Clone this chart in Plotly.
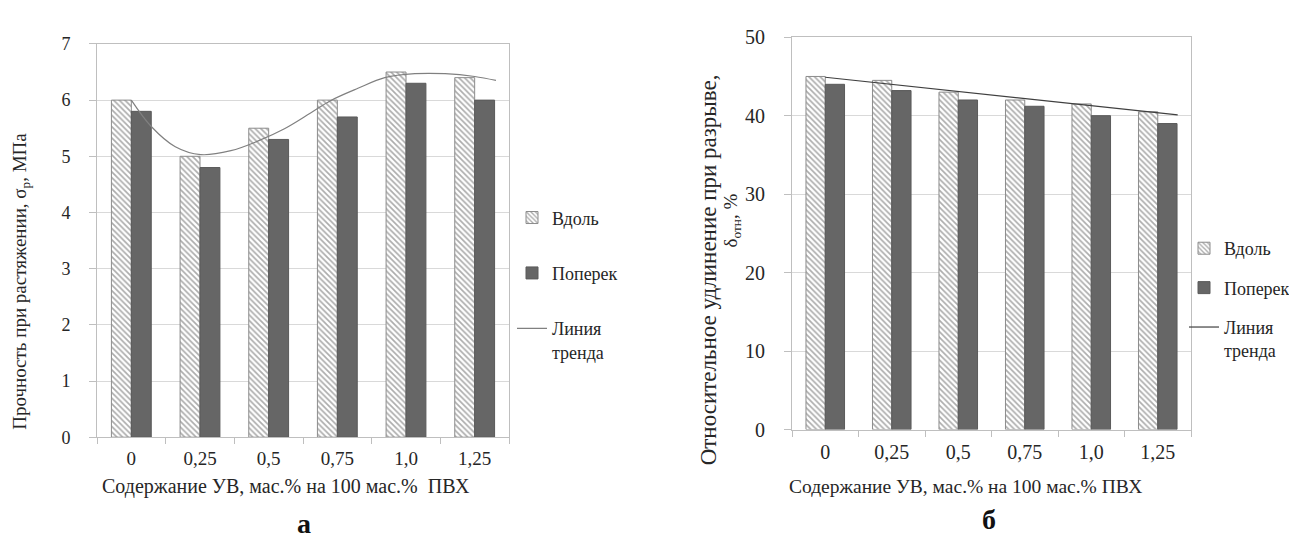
import plotly.graph_objects as go

categories = ["0", "0,25", "0,5", "0,75", "1,0", "1,25"]
cat_pos = [0, 1, 2, 3, 4, 5]

# chart a: tensile strength, MPa
a_along = [6.0, 5.0, 5.5, 6.0, 6.5, 6.4]
a_across = [5.8, 4.8, 5.3, 5.7, 6.3, 6.0]
a_trend_x = [0, 0.29, 0.64, 1.01, 1.45, 1.84, 2.23, 2.61, 2.9, 3.3, 3.69, 4.13, 4.57, 5.0, 5.31]
a_trend_y = [6.0, 5.53, 5.17, 5.03, 5.10, 5.27, 5.49, 5.77, 5.99, 6.21, 6.40, 6.47, 6.47, 6.42, 6.35]

# chart b: relative elongation at break, %
b_along = [45.0, 44.5, 43.0, 42.0, 41.5, 40.5]
b_across = [44.0, 43.2, 42.0, 41.2, 40.0, 39.0]
b_trend_x = [0, 5.3]
b_trend_y = [44.9, 40.1]

W, H = 1297, 539
SERIF = "Liberation Serif"
GRID = "#d9d9d9"
AXC = "#bfbfbf"
DARK = "#666666"
TXT = "#262626"

def px_x(p):
    return p / W

def px_y(p):
    return 1 - p / H

fig = go.Figure()

hatch = dict(shape="\\", fgcolor="#595959", bgcolor="white", size=4, solidity=0.42)

# --- chart a
fig.add_trace(go.Bar(x=cat_pos, y=a_along, name="Вдоль", xaxis="x", yaxis="y",
                     marker=dict(color="white", pattern=hatch, line=dict(color="#8c8c8c", width=1)),
                     legend="legend", legendgroup="a1"))
fig.add_trace(go.Bar(x=cat_pos, y=a_across, name="Поперек", xaxis="x", yaxis="y",
                     marker=dict(color=DARK, line=dict(color="#5a5a5a", width=1)),
                     legend="legend", legendgroup="a2"))
fig.add_trace(go.Scatter(x=a_trend_x, y=a_trend_y, name="Линия<br>тренда", mode="lines",
                         line=dict(color="#808080", width=1.2, shape="spline"),
                         xaxis="x", yaxis="y", legend="legend", legendgroup="a3"))

# --- chart b
fig.add_trace(go.Bar(x=cat_pos, y=b_along, name="Вдоль", xaxis="x2", yaxis="y2",
                     marker=dict(color="white", pattern=hatch, line=dict(color="#8c8c8c", width=1)),
                     legend="legend2", legendgroup="b1"))
fig.add_trace(go.Bar(x=cat_pos, y=b_across, name="Поперек", xaxis="x2", yaxis="y2",
                     marker=dict(color=DARK, line=dict(color="#5a5a5a", width=1)),
                     legend="legend2", legendgroup="b2"))
fig.add_trace(go.Scatter(x=b_trend_x, y=b_trend_y, name="Линия<br>тренда", mode="lines",
                         line=dict(color="#404040", width=1.2),
                         xaxis="x2", yaxis="y2", legend="legend2", legendgroup="b3"))

def xaxis(domain, anchor, size):
    return dict(domain=domain, anchor=anchor, range=[-0.5, 5.5],
                tickmode="array", tickvals=cat_pos, ticktext=categories,
                ticks="", ticklabelstandoff=4,
                tickfont=dict(family=SERIF, size=size, color=TXT),
                showgrid=False, showline=True, linecolor=AXC, linewidth=1, mirror=True,
                minor=dict(tickmode="array", tickvals=[-0.5, 0.5, 1.5, 2.5, 3.5, 4.5, 5.5],
                           ticks="outside", ticklen=6, tickcolor=AXC, showgrid=False),
                zeroline=False, fixedrange=True)

def yaxis(domain, anchor, rng, dtick, size):
    return dict(domain=domain, anchor=anchor, range=rng, dtick=dtick,
                ticks="outside", ticklen=7, tickcolor=AXC, ticklabelstandoff=15,
                tickfont=dict(family=SERIF, size=size, color=TXT),
                showgrid=True, gridcolor=GRID, gridwidth=1,
                showline=True, linecolor=AXC, linewidth=1, mirror=True,
                zeroline=False, fixedrange=True)

fig.update_layout(
    width=W, height=H,
    margin=dict(l=0, r=0, t=0, b=0),
    paper_bgcolor="white", plot_bgcolor="white",
    barmode="group", bargap=0.42, bargroupgap=0,
    font=dict(family=SERIF, size=18, color=TXT),
    xaxis=xaxis([px_x(89), px_x(501)], "y", 19),
    yaxis=yaxis([px_y(436), px_y(26)], "x", [0, 7], 1, 18),
    xaxis2=xaxis([px_x(784), px_x(1183)], "y2", 20),
    yaxis2=yaxis([px_y(428), px_y(19)], "x2", [0, 50], 10, 20),
    legend=dict(x=px_x(504), y=px_y(188), xanchor="left", yanchor="top",
                font=dict(family=SERIF, size=18, color=TXT),
                tracegroupgap=29, traceorder="grouped", valign="top",
                bgcolor="rgba(0,0,0,0)", itemwidth=30),
    legend2=dict(x=px_x(1176), y=px_y(220), xanchor="left", yanchor="top",
                 font=dict(family=SERIF, size=18, color=TXT),
                 tracegroupgap=13, traceorder="grouped", valign="top",
                 bgcolor="rgba(0,0,0,0)", itemwidth=30),
    showlegend=True,
)

annots = [
    dict(text="Прочность при растяжении, σ<sub>р</sub>, МПа", x=px_x(13), y=px_y(274),
         textangle=-90, size=19),
    dict(text="Относительное удлинение при разрыве,", x=px_x(700), y=px_y(262),
         textangle=-90, size=23),
    dict(text="δ<sub>отн</sub>, %", x=px_x(724), y=px_y(210),
         textangle=-90, size=19),
    dict(text="Содержание УВ, мас.% на 100 мас.%  ПВХ", x=px_x(278), y=px_y(487),
         size=20),
    dict(text="Содержание УВ, мас.% на 100 мас.% ПВХ", x=px_x(957), y=px_y(487),
         size=19.5),
    dict(text="<b>а</b>", x=px_x(296), y=px_y(526), size=28, color="#111"),
    dict(text="<b>б</b>", x=px_x(981), y=px_y(522), size=28, color="#111"),
]
out = []
for a in annots:
    size = a.pop("size")
    color = a.pop("color", TXT)
    a.update(xref="paper", yref="paper", showarrow=False, xanchor="center", yanchor="middle",
             font=dict(family=SERIF, size=size, color=color))
    out.append(a)
fig.update_layout(annotations=out)

fig.write_html("out.html")
